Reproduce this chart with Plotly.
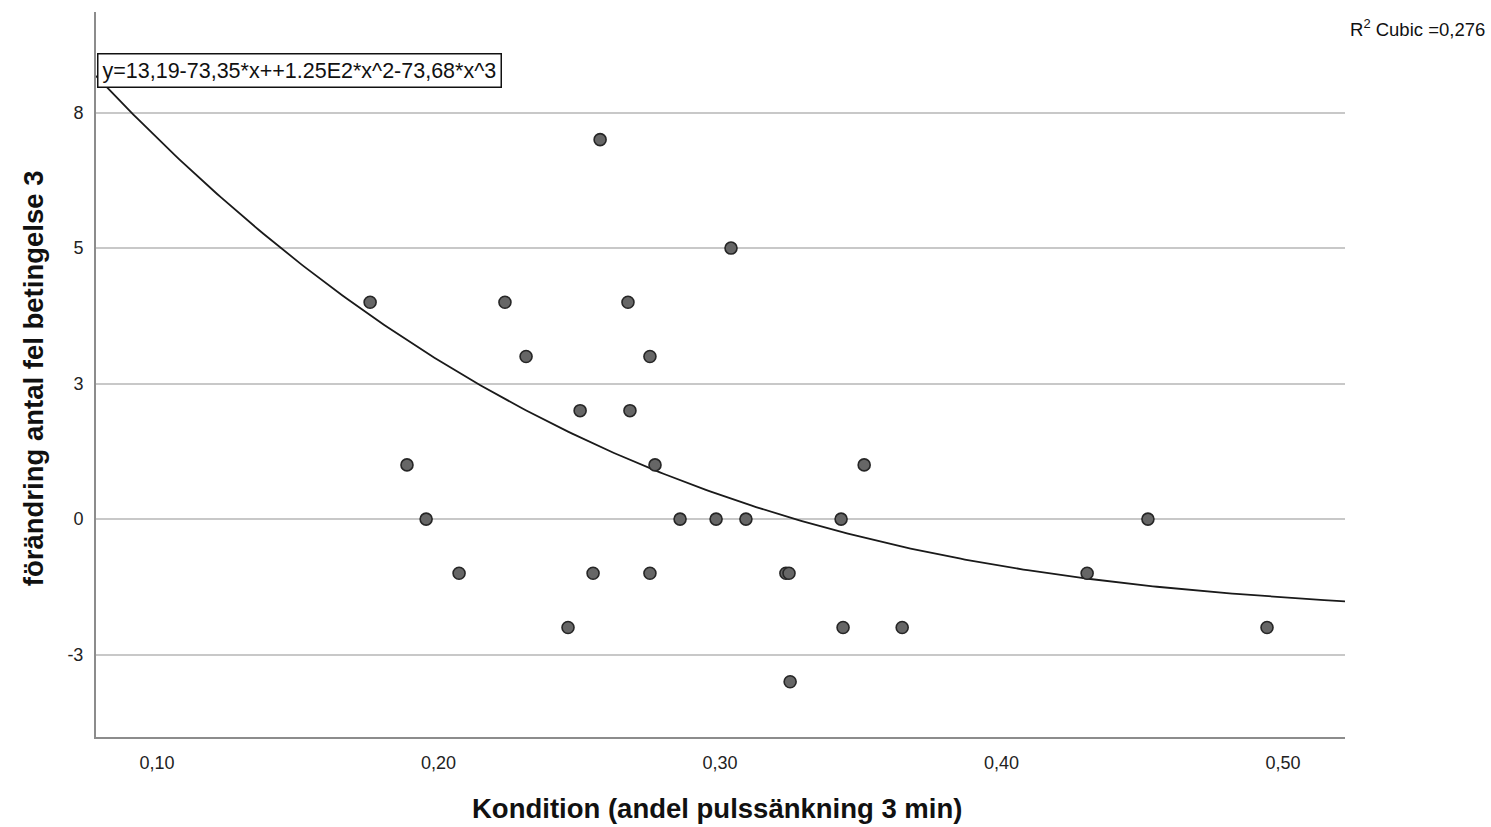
import numpy as np
import plotly.graph_objects as go

# Data
kondition = [0.1757, 0.1888, 0.1956, 0.2073, 0.2236, 0.2311, 0.2460, 0.2503, 0.2549,
             0.2574, 0.2673, 0.2680, 0.2751, 0.2751, 0.2769, 0.2858, 0.2986, 0.3039,
             0.3092, 0.3234, 0.3245, 0.3249, 0.3430, 0.3437, 0.3512, 0.3647, 0.4304,
             0.4520, 0.4943]
forandring = [4, 1, 0, -1, 4, 3, -2, 2, -1,
              7, 4, 2, 3, -1, 1, 0, 0, 5,
              0, -1, -1, -3, 0, -2, 1, -2, -1,
              0, -2]

# Cubic fit coefficients shown in the chart (b0, b1, b2, b3)
cubic_coef = [13.19, -73.35, 125.0, -73.68]
r2_text = "R<sup>2</sup> Cubic =0,276"
eq_text = "y=13,19-73,35*x++1.25E2*x^2-73,68*x^3"

x_tickvals = [0.10, 0.20, 0.30, 0.40, 0.50]
x_ticktext = ["0,10", "0,20", "0,30", "0,40", "0,50"]
y_tickvals = [-2.5, 0, 2.5, 5, 7.5]
y_ticktext = ["-3", "0", "3", "5", "8"]

x_title = "Kondition (andel pulssänkning 3 min)"
y_title = "förändring antal fel betingelse 3"

x_range = [0.07833, 0.5220]
y_range = [-4.02, 9.355]

xs = np.linspace(x_range[0], x_range[1], 300)
ys = sum(c * xs ** i for i, c in enumerate(cubic_coef))

FONT = "Liberation Sans, Arial, sans-serif"

fig = go.Figure()
fig.add_trace(go.Scatter(
    x=xs, y=ys, mode="lines",
    line=dict(color="#1a1a1a", width=1.8),
    hoverinfo="skip", showlegend=False,
))
fig.add_trace(go.Scatter(
    x=kondition, y=forandring, mode="markers",
    marker=dict(size=12, color="#666666", line=dict(color="#262626", width=1.6)),
    showlegend=False,
))

fig.update_layout(
    width=1491, height=827,
    margin=dict(l=96, r=146, t=12, b=90),
    paper_bgcolor="white", plot_bgcolor="white",
    font=dict(family=FONT, size=18, color="#222222"),
    xaxis=dict(
        range=x_range, tickvals=x_tickvals, ticktext=x_ticktext,
        showgrid=False, zeroline=False, showline=True,
        linecolor="#8c8c8c", linewidth=2, ticks="",
        ticklabelstandoff=8,
        tickfont=dict(size=18, color="#222222"),
    ),
    yaxis=dict(
        range=y_range, tickvals=y_tickvals, ticktext=y_ticktext,
        showgrid=True, gridcolor="#c8c8c8", gridwidth=1.5,
        zeroline=False, showline=True,
        linecolor="#8c8c8c", linewidth=2, ticks="",
        ticklabelstandoff=7,
        tickfont=dict(size=18, color="#222222"),
    ),
    annotations=[
        dict(text=x_title, xref="paper", yref="paper", x=0.497, y=-0.098,
             xanchor="center", yanchor="middle", showarrow=False,
             font=dict(family=FONT, size=27.5, color="#111111", weight="bold")),
        dict(text=y_title, xref="paper", yref="paper", x=-0.0504, y=0.495,
             xanchor="center", yanchor="middle", showarrow=False, textangle=-90,
             font=dict(family=FONT, size=27.5, color="#111111", weight="bold")),
        dict(text=eq_text, xref="paper", yref="paper", x=0.0008, y=0.9435,
             xanchor="left", yanchor="top", showarrow=False,
             bgcolor="white", bordercolor="#111111", borderwidth=1.5, borderpad=4,
             font=dict(family=FONT, size=21.5, color="#111111")),
        dict(text=r2_text, xref="paper", yref="paper", x=1.1137, y=0.978,
             xanchor="right", yanchor="middle", showarrow=False,
             font=dict(family=FONT, size=18.5, color="#111111")),
    ],
)

fig.write_html("out.html")
